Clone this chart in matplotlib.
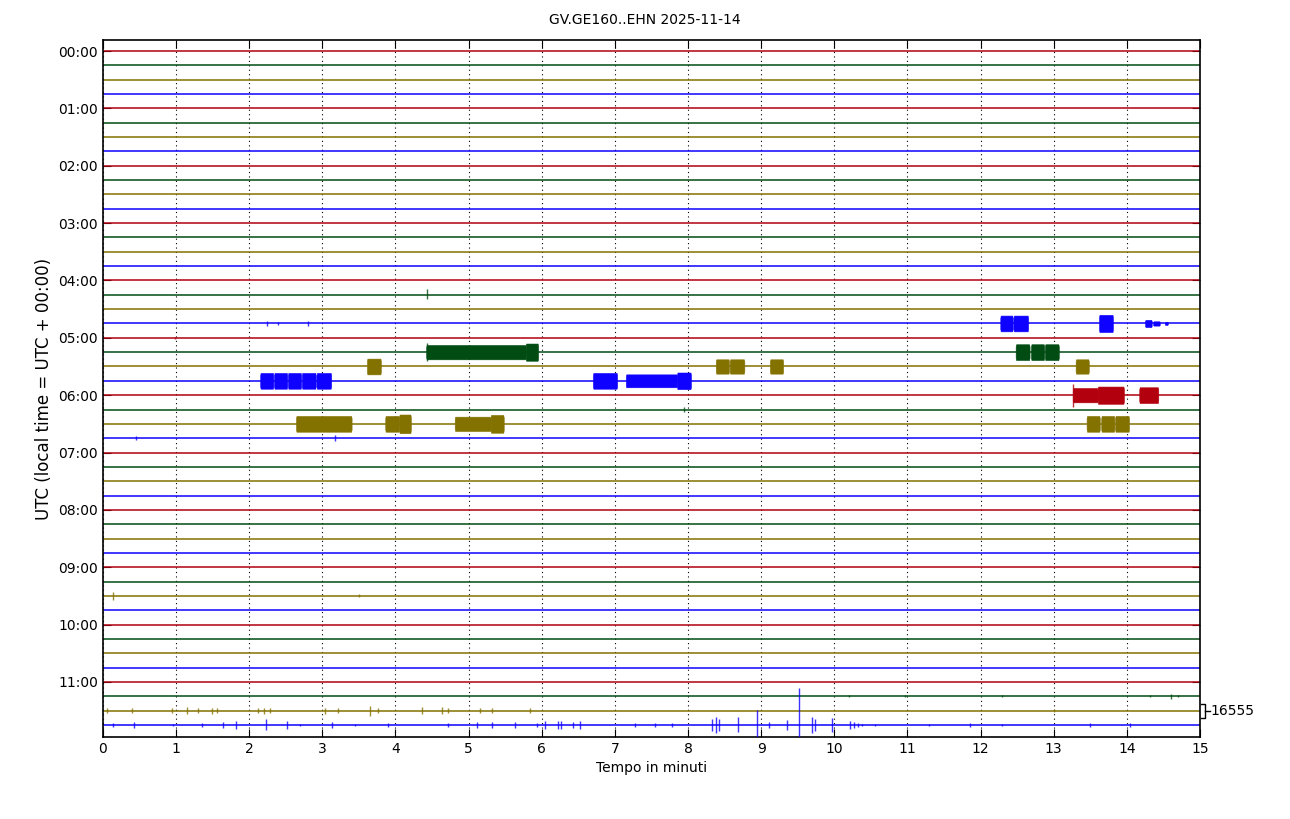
import matplotlib
matplotlib.use("Agg")
from matplotlib import pyplot as plt

# trace colours, cycled per 15-minute row (red, green, olive, blue)
colors = ['#B2000F', '#004C12', '#847200', '#0E01FF']
n_rows = 48                 # 00:00 .. 11:45, one row every 15 min
row_minutes = 15
hour_labels = ['%02d:00' % h for h in range(12)]
title = 'GV.GE160..EHN 2025-11-14'
scale_label = '16555'

# bursts: (row, start min, end min, half amplitude in row units)
bursts = [
    (19, 12.27, 12.44, 0.55), (19, 12.45, 12.65, 0.55), (19, 13.62, 13.81, 0.60),
    (19, 14.25, 14.34, 0.25), (19, 14.36, 14.45, 0.15), (19, 14.52, 14.56, 0.10),
    (21, 4.42, 5.78, 0.50), (21, 5.78, 5.95, 0.60),
    (21, 12.48, 12.67, 0.55), (21, 12.69, 12.87, 0.55), (21, 12.88, 13.07, 0.55),
    (22, 3.61, 3.80, 0.55), (22, 8.38, 8.56, 0.50), (22, 8.57, 8.77, 0.50),
    (22, 9.12, 9.30, 0.50), (22, 13.30, 13.48, 0.50),
    (23, 2.15, 2.33, 0.55), (23, 2.34, 2.52, 0.55), (23, 2.53, 2.71, 0.55),
    (23, 2.72, 2.91, 0.55), (23, 2.92, 3.12, 0.55),
    (23, 6.70, 7.03, 0.55), (23, 7.15, 7.85, 0.45), (23, 7.85, 8.04, 0.58),
    (24, 13.26, 13.60, 0.50), (24, 13.60, 13.96, 0.60), (24, 14.17, 14.43, 0.55),
    (26, 2.64, 3.40, 0.55), (26, 3.86, 4.05, 0.55), (26, 4.05, 4.21, 0.65),
    (26, 4.81, 5.30, 0.50), (26, 5.30, 5.48, 0.62),
    (26, 13.45, 13.63, 0.55), (26, 13.65, 13.83, 0.55), (26, 13.84, 14.03, 0.55),
]

# single spikes: (row, minute, up amplitude, down amplitude)
spikes = [
    (17, 4.43, 0.40, 0.30),
    (19, 2.25, 0.15, 0.15), (19, 2.40, 0.10, 0.10), (19, 2.80, 0.15, 0.15),
    (20, 0.98, 0.06, 0.06),
    (21, 4.43, 0.65, 0.65),
    (24, 13.27, 0.80, 0.80),
    (25, 7.94, 0.15, 0.15),
    (27, 0.45, 0.12, 0.12), (27, 3.17, 0.20, 0.20),
    (38, 0.14, 0.30, 0.30), (38, 3.50, 0.10, 0.10),
    (45, 10.20, 0.08, 0.08), (45, 10.97, 0.08, 0.08), (45, 12.30, 0.06, 0.06),
    (45, 14.32, 0.08, 0.08), (45, 14.60, 0.18, 0.18), (45, 14.70, 0.08, 0.08),
    (46, 0.05, 0.15, 0.15), (46, 0.40, 0.15, 0.15), (46, 0.94, 0.18, 0.18),
    (46, 1.15, 0.22, 0.22), (46, 1.30, 0.15, 0.15), (46, 1.49, 0.20, 0.20),
    (46, 1.56, 0.15, 0.15), (46, 2.12, 0.15, 0.15), (46, 2.20, 0.20, 0.20),
    (46, 2.28, 0.15, 0.15), (46, 3.04, 0.20, 0.20), (46, 3.21, 0.15, 0.15),
    (46, 3.65, 0.35, 0.35), (46, 3.76, 0.18, 0.18), (46, 4.36, 0.25, 0.25),
    (46, 4.64, 0.22, 0.22), (46, 4.72, 0.18, 0.18), (46, 5.16, 0.18, 0.18),
    (46, 5.32, 0.15, 0.15), (46, 5.84, 0.15, 0.15), (46, 13.00, 0.12, 0.12),
    (47, 0.14, 0.12, 0.12), (47, 0.42, 0.20, 0.20), (47, 0.96, 0.10, 0.10),
    (47, 1.35, 0.12, 0.12), (47, 1.64, 0.20, 0.20), (47, 1.82, 0.30, 0.30),
    (47, 2.23, 0.40, 0.35), (47, 2.51, 0.30, 0.30), (47, 2.70, 0.10, 0.10),
    (47, 3.13, 0.20, 0.20), (47, 3.45, 0.10, 0.10), (47, 3.90, 0.15, 0.15),
    (47, 4.72, 0.12, 0.12), (47, 5.11, 0.22, 0.22), (47, 5.32, 0.20, 0.20),
    (47, 5.63, 0.20, 0.20), (47, 5.93, 0.12, 0.12), (47, 6.04, 0.25, 0.25),
    (47, 6.22, 0.30, 0.30), (47, 6.27, 0.30, 0.30), (47, 6.43, 0.22, 0.22),
    (47, 6.52, 0.25, 0.25), (47, 7.28, 0.15, 0.15), (47, 7.55, 0.15, 0.15),
    (47, 7.78, 0.15, 0.15),
    (47, 8.33, 0.45, 0.45), (47, 8.38, 0.55, 0.55), (47, 8.43, 0.45, 0.45),
    (47, 8.68, 0.55, 0.50), (47, 8.94, 1.05, 0.85), (47, 9.11, 0.22, 0.22),
    (47, 9.35, 0.35, 0.35), (47, 9.52, 2.60, 0.85), (47, 9.70, 0.55, 0.55),
    (47, 9.74, 0.45, 0.45), (47, 9.97, 0.50, 0.50), (47, 10.21, 0.28, 0.28),
    (47, 10.27, 0.22, 0.22), (47, 10.33, 0.12, 0.12), (47, 10.38, 0.08, 0.08),
    (47, 10.55, 0.08, 0.08), (47, 11.30, 0.10, 0.10), (47, 11.85, 0.12, 0.12),
    (47, 12.30, 0.10, 0.10), (47, 13.50, 0.12, 0.12), (47, 14.05, 0.12, 0.12),
]

fig = plt.figure(figsize=(12.9, 8.19), dpi=100)
ax = fig.add_axes([0.0798, 0.1001, 0.8504, 0.8511])

for i in range(n_rows):
    c = colors[i % 4]
    ax.plot([0, row_minutes], [-i, -i], color=c, lw=1.1, zorder=2)

# bursts: nearly rectangular envelopes with a short ramp at each end
for row, t0, t1, a in bursts:
    c = colors[row % 4]
    ramp = min(0.006, (t1 - t0) / 6)
    xs = [t0, t0 + ramp, t1 - ramp, t1]
    env = [0.7 * a, a, a, 0.7 * a]
    ax.fill_between(xs, [-row + e for e in env], [-row - e for e in env],
                    color=c, lw=0.4, zorder=3)

for row, t, up, down in spikes:
    c = colors[row % 4]
    ax.vlines(t, -row - down, -row + up, color=c, lw=1.0, alpha=0.8, zorder=3)

ax.set_xlim(0, row_minutes)
ax.set_ylim(-(n_rows - 1) - 0.84, 0.77)
ax.set_xticks(range(0, row_minutes + 1))
ax.set_yticks([-4 * h for h in range(12)])
ax.set_yticklabels(hour_labels)
ax.tick_params(direction='in', top=True, right=True, length=6, labelsize=10)
ax.xaxis.grid(True, color='black', ls=(0, (1, 3)), lw=0.8)
for s in ax.spines.values():
    s.set_linewidth(1.2)

ax.set_xlabel('Tempo in minuti', fontsize=10)
ax.set_ylabel('UTC (local time = UTC + 00:00)', fontsize=12)
fig.text(0.5, 0.976, title, ha='center', va='center', fontsize=10)

# amplitude scale bracket on the right
yt, yb = -(n_rows - 2) + 0.45, -(n_rows - 2) - 0.52
xr = row_minutes + 0.075
kw = dict(color='black', lw=1.0, clip_on=False)
ax.plot([row_minutes + 0.01, xr, xr, row_minutes + 0.01], [yt, yt, yb, yb], **kw)
ax.plot([xr, xr + 0.06], [(yt + yb) / 2] * 2, **kw)
ax.text(xr + 0.07, (yt + yb) / 2, scale_label, ha='left', va='center', fontsize=10)

fig.savefig('out.png', dpi=100)
